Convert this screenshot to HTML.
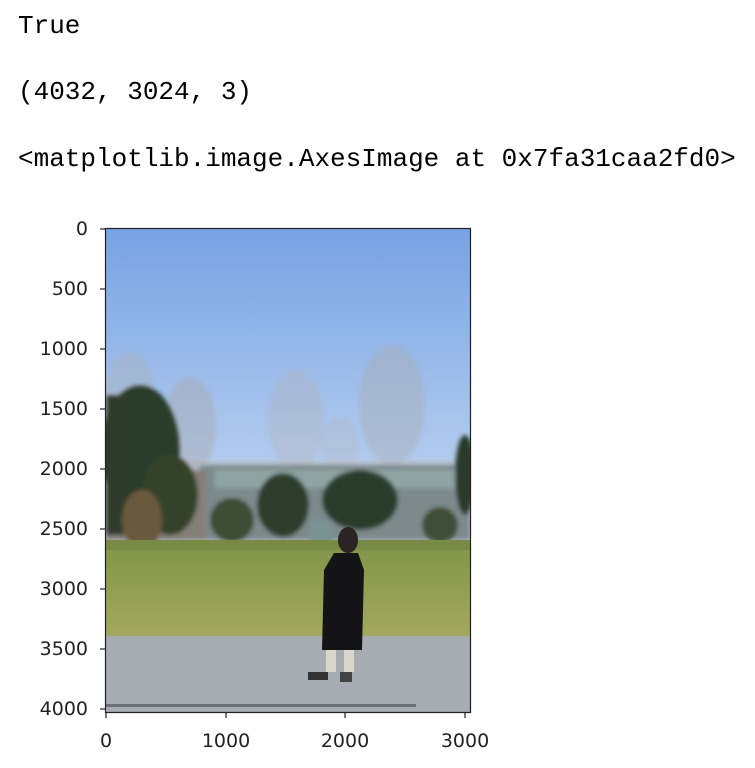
<!DOCTYPE html>
<html><head><meta charset="utf-8"><style>
html,body{margin:0;padding:0;background:#fff;width:755px;height:768px;overflow:hidden;position:relative}
.t{position:absolute;left:18px;font-family:"Liberation Mono","Noto Serif CJK SC",monospace;font-size:26px;line-height:26px;color:#000;white-space:pre}
.yl{position:absolute;font-family:"DejaVu Sans",sans-serif;font-size:19px;color:#222;text-align:right;width:80px;left:8px;line-height:20px}
.xl{position:absolute;font-family:"DejaVu Sans",sans-serif;font-size:19px;color:#222;width:80px;text-align:center;top:731px;line-height:20px}
</style></head><body>
<div class="t" style="top:13px">True</div>
<div class="t" style="top:79px">(4032, 3024, 3)</div>
<div class="t" style="top:146px">&lt;matplotlib.image.AxesImage at 0x7fa31caa2fd0&gt;</div>

<svg style="position:absolute;left:0;top:0" width="755" height="768">
<defs>
<linearGradient id="sky" x1="0" y1="0" x2="0" y2="1">
<stop offset="0" stop-color="#78a2e3"/><stop offset="1" stop-color="#b4cdef"/>
</linearGradient>
<linearGradient id="grass" x1="0" y1="0" x2="0" y2="1">
<stop offset="0" stop-color="#7f9448"/><stop offset="1" stop-color="#a3a85e"/>
</linearGradient>
<clipPath id="c"><rect x="106" y="229" width="364" height="484"/></clipPath>
<filter id="b"><feGaussianBlur stdDeviation="2"/></filter>
</defs>
<g clip-path="url(#c)">
<rect x="106" y="229" width="364" height="240" fill="url(#sky)"/>
<rect x="106" y="460" width="364" height="85" fill="#b7c5d8"/>
<g filter="url(#b)">
<ellipse cx="130" cy="400" rx="26" ry="48" fill="#b0aeb0" opacity="0.35"/>
<ellipse cx="190" cy="425" rx="26" ry="48" fill="#aba6a4" opacity="0.4"/>
<ellipse cx="296" cy="420" rx="28" ry="50" fill="#b4b3b8" opacity="0.35"/>
<ellipse cx="340" cy="445" rx="20" ry="28" fill="#b4b3b8" opacity="0.3"/>
<ellipse cx="392" cy="405" rx="33" ry="60" fill="#a9a9ac" opacity="0.4"/>
<rect x="200" y="465" width="270" height="75" fill="#7d8a8c"/>
<rect x="215" y="470" width="240" height="18" fill="#90a4a4"/>
<rect x="106" y="470" width="100" height="70" fill="#857f77"/>
<ellipse cx="140" cy="450" rx="40" ry="65" fill="#2c3c2a"/>
<ellipse cx="170" cy="495" rx="28" ry="40" fill="#34432c"/>
<rect x="106" y="395" width="22" height="140" fill="#2f3b2a"/>
<ellipse cx="142" cy="520" rx="20" ry="30" fill="#6a5a3e"/>
<ellipse cx="232" cy="520" rx="22" ry="22" fill="#3d4d34"/>
<ellipse cx="283" cy="505" rx="26" ry="32" fill="#2e3d2b"/>
<ellipse cx="360" cy="500" rx="38" ry="30" fill="#2c3d2b"/>
<ellipse cx="465" cy="475" rx="10" ry="40" fill="#2c3a2a"/>
<ellipse cx="440" cy="525" rx="18" ry="18" fill="#3f4d38"/>
<rect x="310" y="520" width="22" height="28" fill="#7a9294"/>
</g>
<rect x="106" y="540" width="364" height="96" fill="url(#grass)"/>
<rect x="106" y="540" width="364" height="10" fill="#788a44"/>
<rect x="106" y="636" width="364" height="76" fill="#a7abb2"/>
<rect x="106" y="704" width="310" height="3" fill="#6c6f73"/>
<ellipse cx="348" cy="540" rx="10" ry="13" fill="#2a2424"/>
<path d="M334 553 L358 553 L364 570 L362 650 L322 650 L324 570 Z" fill="#141416"/>
<rect x="326" y="650" width="10" height="22" fill="#d9d6cc"/>
<rect x="344" y="650" width="10" height="22" fill="#d9d6cc"/>
<rect x="308" y="672" width="20" height="8" fill="#333"/>
<rect x="340" y="672" width="12" height="10" fill="#444"/>
</g>
<rect x="105.5" y="228.5" width="365" height="484" fill="none" stroke="#222" stroke-width="1.2"/>
<g stroke="#222" stroke-width="1.2">
<line x1="100" y1="229" x2="105" y2="229"/><line x1="100" y1="289" x2="105" y2="289"/>
<line x1="100" y1="349" x2="105" y2="349"/><line x1="100" y1="409" x2="105" y2="409"/>
<line x1="100" y1="469" x2="105" y2="469"/><line x1="100" y1="529" x2="105" y2="529"/>
<line x1="100" y1="589" x2="105" y2="589"/><line x1="100" y1="649" x2="105" y2="649"/>
<line x1="100" y1="709" x2="105" y2="709"/>
<line x1="106" y1="713" x2="106" y2="718"/><line x1="226" y1="713" x2="226" y2="718"/>
<line x1="345" y1="713" x2="345" y2="718"/><line x1="465" y1="713" x2="465" y2="718"/>
</g>
</svg>
<div class="yl" style="top:219px">0</div>
<div class="yl" style="top:279px">500</div>
<div class="yl" style="top:339px">1000</div>
<div class="yl" style="top:399px">1500</div>
<div class="yl" style="top:459px">2000</div>
<div class="yl" style="top:519px">2500</div>
<div class="yl" style="top:579px">3000</div>
<div class="yl" style="top:639px">3500</div>
<div class="yl" style="top:699px">4000</div>
<div class="xl" style="left:66px">0</div>
<div class="xl" style="left:186px">1000</div>
<div class="xl" style="left:305px">2000</div>
<div class="xl" style="left:425px">3000</div>
</body></html>
